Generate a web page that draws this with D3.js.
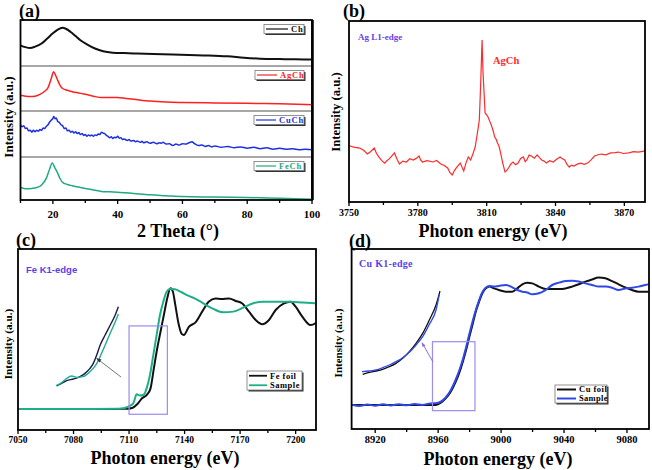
<!DOCTYPE html>
<html><head><meta charset="utf-8">
<script src="https://cdn.jsdelivr.net/npm/d3@7"></script>
<style>body{margin:0;background:#fff}svg{display:block}</style>
</head><body>
<script>
// ---------- DATA ----------
// (a) XRD patterns: [2theta, relative intensity within its strip (0-100)]
const xrdTicks = [20, 40, 60, 80, 100];
const xrdNames = ["Ch", "AgCh", "CuCh", "FeCh"];
const xrdColors = ["#111111", "#ff2020", "#1f2fe0", "#22a882"];
const xrdCh = [[10,45],[11.5,41],[13,39],[14.5,42],[16.5,49],[18,58],[20,71],[21.5,79],[23,83],[24,81],[25.5,74],[27,65],[28.5,56],[30.5,47],[33,38],[35.5,32],[38.5,29],[42,28],[46,27],[51,26],[57,25],[62,24],[68,23],[74,21],[79,18],[84,16],[90,15],[95,14.5],[100,14]];
const xrdAgCh = [[10,35],[11.5,33],[13,32],[14.5,33],[16,37],[17.5,44],[18.5,52],[19.5,72],[20.2,87],[20.8,80],[21.5,68],[22.2,57],[23,50],[24.5,46],[26,43],[28,40],[30,37],[32.5,33],[35,30],[37.5,30],[40,30],[42.5,28],[45,26],[50,22],[55,20],[60,19],[70,18],[80,17],[90,16],[100,14]];
const xrdCuCh = [[10,70],[10.5,66],[11,68],[11.5,62],[12,63],[12.5,57],[13,58],[13.5,54],[14,58],[14.5,55],[15,58],[15.5,56],[16,60],[16.5,58],[17,63],[17.5,62],[18,67],[18.5,70],[19,76],[19.5,80],[20,84],[20.3,88],[20.7,83],[21,85],[21.5,77],[22,75],[22.5,70],[23,68],[23.5,62],[24,63],[24.5,57],[25,58],[25.5,54],[26,56],[26.5,52],[27,55],[27.5,51],[28,53],[28.5,49],[29,51],[29.5,47],[30,49],[30.5,45],[31,48],[31.5,46],[32,48],[32.5,45],[33,48],[33.5,47],[34,50],[34.5,49],[35,54],[35.5,52],[36,51],[36.5,47],[37,45],[37.5,42],[38,44],[38.5,40],[39,43],[39.5,42],[40,45],[40.5,41],[41,42],[41.5,38],[42,39],[43,36],[43.5,38],[44,35],[45,36],[45.5,33],[46,35],[47,32],[47.5,34],[48,31],[49,33],[50,30],[51,32],[52,29],[53,31],[53.5,30],[54,32],[55,28],[56,29],[57,25],[58,28],[59,26],[60,29],[61,28],[62,31],[63,33],[63.5,30],[64,28],[65,25],[66,26],[67,23],[68,25],[69,22],[70,24],[72,21],[74,23],[76,20],[78,22],[80,19],[82,21],[84,18],[86,20],[88,17],[90,19],[92,17],[94,18],[96,16],[98,17],[100,16]];
const xrdFeCh = [[10,29],[11,27],[12,26],[13.5,27],[15,29],[16.5,35],[18,51],[19,72],[19.8,86],[20.6,75],[21.5,62],[22.2,50],[23,41],[24.5,36],[26,33],[28,30],[30,27],[32.5,23],[35,20],[37.5,19],[40,18],[45,15],[50,12],[55,10],[60,8],[70,7],[80,6],[90,4],[100,2]];

// (b) Ag L1-edge XANES: [eV, intensity]
const agTicks = [3750, 3780, 3810, 3840, 3870];
const agCh = [[3750,31.1],[3752.5,30.2],[3754.7,29.8],[3756.5,28.4],[3758,26.5],[3759.5,27.9],[3761,29.8],[3762,26.8],[3763,24.9],[3764.2,23],[3765.5,21.5],[3766.5,22.8],[3767.5,23.8],[3768.7,25.5],[3769.8,27.1],[3771,23.5],[3772,21],[3773.5,22.6],[3775,22.1],[3776.5,23.9],[3778,23.2],[3779.3,24.1],[3780.5,25.4],[3781.2,23.3],[3782,22.1],[3784,22.8],[3786.6,22.1],[3788.2,22.9],[3790,21],[3791.5,20.2],[3793,18.8],[3794,16.2],[3795,14.9],[3796,17.5],[3797,19.3],[3798.5,21.5],[3799.2,19.4],[3800,17.1],[3801,21.6],[3802,24.9],[3803,23.2],[3804,26.5],[3805,30.4],[3806,38.5],[3806.8,45.3],[3807.4,65.7],[3808,89.5],[3808.4,72],[3808.8,61.9],[3809.3,49.2],[3810,48.1],[3810.6,47],[3811.3,44.7],[3812,42.5],[3812.8,39.5],[3813.5,35.9],[3814.2,34.5],[3814.7,32.6],[3815.3,31.2],[3815.8,28.7],[3816.5,24.5],[3817,21.5],[3818,16.6],[3818.8,17.5],[3819.5,18.8],[3820.5,20.9],[3821.5,22.1],[3822.6,20.6],[3823.7,21.5],[3824.8,24.1],[3826,24.9],[3826.8,22.3],[3827.5,23.2],[3828.5,25.9],[3829.5,25.4],[3830.8,24.2],[3832,26],[3833,24.5],[3834,23.2],[3835,22.6],[3836,21.5],[3837.5,22.8],[3839,22.1],[3840.5,23.6],[3842,24.9],[3843,23.9],[3844,23.2],[3845,20.8],[3846,19.3],[3847,20.4],[3848,19.9],[3849.5,20.9],[3851,21.5],[3852.5,20.8],[3854,21.5],[3855.5,23.3],[3857,25.4],[3858.5,26.1],[3860,26.5],[3862,26.1],[3864,27.1],[3866,27.3],[3867.5,27.6],[3869.5,26.8],[3872,27.1],[3874,27.8],[3876,27.6],[3878,28],[3879,28.2]];

// (c) Fe K1-edge XANES: [eV, intensity]
const feTicks = [7050, 7080, 7110, 7140, 7170, 7200];
const feFoil = [[7090,11.6],[7100,11.6],[7108,11.7],[7111.7,12.2],[7114.4,14.2],[7117,17.5],[7119.8,19.7],[7121.6,23],[7123.4,34],[7125.2,45],[7127,54.3],[7128.8,63.5],[7130.6,72.7],[7132.4,78.3],[7133.7,76.4],[7135,69],[7136.9,58],[7138.5,53],[7139.6,52.5],[7142.3,57],[7145.9,59.5],[7149.5,65.4],[7153,70.9],[7156.7,72.7],[7160,72.4],[7164,72.7],[7167.6,71.3],[7171,70],[7174.8,65.4],[7178.4,60.8],[7182,58.4],[7185.6,60.8],[7189.2,66.3],[7193.7,70],[7197.3,70.9],[7200,68.1],[7203.6,62.6],[7208,58],[7210.7,59],[7213,62.1]];
const feSample = [[7050,11.6],[7070,11.6],[7090,11.6],[7105,11.7],[7109.6,12.9],[7112.3,14.7],[7114.1,19.7],[7115.9,19],[7117.7,19.3],[7119.5,23],[7121.3,30.4],[7123.1,41.4],[7124.9,52.5],[7126.7,63.5],[7128.5,70.9],[7130.3,76.4],[7132.1,77.9],[7134.8,77.7],[7138.4,76.1],[7142,74.2],[7146.5,72.2],[7150.1,70],[7155.5,66.9],[7160.9,65],[7166.3,65.4],[7171.7,67.6],[7177.1,70],[7182.5,70.9],[7189.8,70.9],[7197,70.9],[7204.1,70.4],[7210.5,70],[7213,70]];
const feZoomBox = [7110, 7130.7, 8.7, 57.5];            // eV0, eV1, I0, I1
const feInsetFoil = [[1,0],[9,3.3],[17,6.7],[27.5,8.8],[38,11.7],[46,15.8],[54,22],[59,28],[64.6,38.8],[70,51],[78,63.8],[86,76],[94,88.8],[99,99]];
const feInsetSample = [[0,0.4],[9,4.2],[17,9.6],[25,12.5],[33,10.8],[43,11.7],[51,15.8],[59,22],[64.6,28],[70,36.7],[78,51],[86,66],[94,80],[99,90]];

// (d) Cu K1-edge XANES: [eV, intensity]
const cuTicks = [8920, 8960, 9000, 9040, 9080];
const cuFoil = [[8905.3,13.3],[8930,13.3],[8958.5,13.4],[8961.7,14.6],[8964.8,17],[8968,20.7],[8971.2,26.3],[8974.4,33.7],[8977.5,43],[8979.6,50.4],[8981.8,57.8],[8983.9,65.2],[8986,70.7],[8988.1,75.4],[8990.2,78.1],[8992.7,79.1],[8995.5,78.1],[8998.6,77.2],[9002.9,76.3],[9007.1,76.3],[9010.3,78.1],[9013.5,80.4],[9016.6,81.3],[9019.8,80.9],[9024,79.1],[9028.2,77.8],[9032.5,77.8],[9036.7,77.8],[9040.9,78.1],[9045.2,79.1],[9049.4,80.4],[9053.6,81.9],[9057.8,83.1],[9062,84.1],[9066.3,83.7],[9070.5,82.2],[9074.7,80.4],[9078.9,78.7],[9083.2,77.2],[9087.4,76.3],[9093.7,76.3]];
const cuSample = [[8905.3,13.5],[8910,12.8],[8915,13.6],[8920,12.9],[8925,13.7],[8930,13.1],[8935,13.8],[8940,13.2],[8945,13.9],[8950,13.4],[8955,14.2],[8958.5,14.3],[8961.7,15.2],[8964.8,17.5],[8968,21.5],[8971.2,27.5],[8974.4,35],[8977.5,44.5],[8979.6,52],[8981.8,59.5],[8983.9,66],[8986,71.5],[8988.1,76],[8990.2,78.5],[8992.7,79.5],[8995.5,79.1],[8998.6,79.5],[9002.9,80],[9007.1,78.7],[9010.3,77.2],[9013.5,76.3],[9016.6,75.8],[9019.8,74.8],[9024,75.4],[9028.2,77.2],[9032.5,80],[9036.7,81.3],[9040.9,82.2],[9045.2,82.4],[9049.4,81.9],[9053.6,80.9],[9057.8,80],[9062,79.1],[9066.3,79.1],[9070.5,78.5],[9074.7,77.2],[9078.9,78.1],[9083.2,78.5],[9087.4,79.1],[9091.6,80],[9093.7,80.4]];
const cuZoomBox = [8956.4, 8983.4, 10.2, 48.5];
const cuInsetFoil = [[0.8,0.8],[9.3,3.1],[17.7,4.7],[26.2,6.7],[34.6,9.8],[43,13.7],[51.5,19.6],[59.9,27.5],[68.4,37.3],[76.8,49],[85.2,64.7],[93.7,82.4],[98.7,98.8]];
const cuInsetSample = [[0,3.9],[9.3,4.7],[17.7,5.9],[26.2,8.6],[34.6,11.8],[43,15.7],[51.5,20.4],[59.9,26.7],[68.4,35.3],[76.8,45.1],[85.2,59.6],[93.7,76.5],[97.9,94.9]];

// ---------- DRAWING ----------
const SERIF = "'Liberation Serif','Times New Roman',serif";
const SANS = "'Liberation Sans',Arial,sans-serif";
const svg = d3.select("body").append("svg").attr("width", 652).attr("height", 470);

function txt(x, y, s, size, opts = {}) {
  const t = svg.append("text").attr("x", x).attr("y", y).text(s)
    .attr("font-family", opts.family || SERIF).attr("font-weight", "bold")
    .attr("font-size", size).attr("fill", opts.fill || "#000")
    .attr("text-anchor", opts.anchor || "start");
  if (opts.rotate) t.attr("transform", `rotate(-90,${x},${y})`).attr("dy", "0.35em");
  if (opts.ls) t.attr("letter-spacing", opts.ls);
  return t;
}

function bottomAxis(x, y0, ticks, minorStep, fontSize, labelY) {
  const [d0, d1] = x.domain();
  const minor = d3.range(Math.ceil(d0 / minorStep) * minorStep, d1 + 0.001, minorStep);
  const g = svg.append("g");
  g.selectAll("line").data(minor).join("line")
    .attr("x1", d => x(d)).attr("x2", d => x(d))
    .attr("y1", y0).attr("y2", d => y0 + (ticks.includes(d) ? 4 : 3))
    .attr("stroke", "#000").attr("stroke-width", 1.3);
  g.selectAll("text").data(ticks).join("text")
    .attr("x", d => x(d)).attr("y", labelY).text(d => d)
    .attr("text-anchor", "middle").attr("font-family", SERIF)
    .attr("font-weight", "bold").attr("font-size", fontSize);
}

function frame(l, t, r, b) {
  svg.append("rect").attr("x", l).attr("y", t).attr("width", r - l).attr("height", b - t)
    .attr("fill", "none").attr("stroke", "#000").attr("stroke-width", 1.8);
}

function legendBox(x, y, w, h, items, size) {
  svg.append("rect").attr("x", x + 1.5).attr("y", y + 1.5).attr("width", w).attr("height", h).attr("fill", "#333");
  svg.append("rect").attr("x", x).attr("y", y).attr("width", w).attr("height", h)
    .attr("fill", "#fff").attr("stroke", "#777").attr("stroke-width", 0.8);
  const rowH = h / items.length;
  items.forEach((it, i) => {
    const cy = y + rowH * (i + 0.5);
    svg.append("line").attr("x1", x + 2).attr("x2", x + it.lineW).attr("y1", cy).attr("y2", cy)
      .attr("stroke", it.color).attr("stroke-width", it.sw || 1.5);
    txt(x + it.lineW + 3, cy + size * 0.35, it.label, size, { fill: it.textColor || "#000", ls: it.ls || 0 });
  });
}

const line = (x, y) => d3.line().x(d => x(d[0])).y(d => y(d[1])).curve(d3.curveMonotoneX);

// ---- Panel (a)
{
  const L = 20.5, R = 312, T = 20, B = 200;
  const strips = [20, 66, 111, 157, 200];
  const x = d3.scaleLinear().domain([10, 100]).range([L, R]);
  const series = [xrdCh, xrdAgCh, xrdCuCh, xrdFeCh];
  series.forEach((s, i) => {
    const y = d3.scaleLinear().domain([0, 100]).range([strips[i + 1], strips[i]]);
    svg.append("path").attr("d", line(x, y)(s)).attr("fill", "none")
      .attr("stroke", xrdColors[i]).attr("stroke-width", i === 0 ? 2 : 1.5);
    const bw = [40, 49, 50, 50][i];
    legendBox(304 - bw, strips[i] + 4.5, bw, 9,
      [{ color: xrdColors[i], label: xrdNames[i], lineW: i === 0 ? 24 : 22, textColor: xrdColors[i], sw: 1.2, ls: 0.8 }], 8.5);
  });
  strips.slice(1, 4).forEach(s => svg.append("line").attr("x1", L).attr("x2", R).attr("y1", s).attr("y2", s)
    .attr("stroke", "#8a8a8a").attr("stroke-width", 1.6));
  frame(L, T, R, B);
  svg.append("line").attr("x1", R + 0.5).attr("x2", R + 0.5).attr("y1", T).attr("y2", B).attr("stroke", "#000").attr("stroke-width", 2.5);
  bottomAxis(x, B, xrdTicks, 10, 11, 218);
  txt(178, 237, "2 Theta (°)", 18, { anchor: "middle" });
  txt(8, 117, "Intensity (a.u.)", 13, { anchor: "middle", rotate: true });
  txt(19, 17, "(a)", 18);
}

// ---- Panel (b)
{
  const L = 349, R = 645, T = 21, B = 202;
  const x = d3.scaleLinear().domain([3750, 3879]).range([L, R]);
  const y = d3.scaleLinear().domain([0, 100]).range([B, T]);
  svg.append("path").attr("d", d3.line().x(d => x(d[0])).y(d => y(d[1]))(agCh))
    .attr("fill", "none").attr("stroke", "#ff2a2a").attr("stroke-width", 1.2);
  frame(L, T, R, B);
  bottomAxis(x, B, agTicks, 15, 10, 216);
  txt(358, 40, "Ag L1-edge", 9, { fill: "#6a3fe6" });
  txt(493, 64, "AgCh", 10.5, { fill: "#ff2a2a" });
  txt(493, 237, "Photon energy (eV)", 18, { anchor: "middle" });
  txt(336, 112, "Intensity (a.u.)", 12.7, { anchor: "middle", rotate: true });
  txt(343, 17, "(b)", 18);
}

// ---- Panel (c)
{
  const L = 18, R = 316, T = 249, B = 430;
  const x = d3.scaleLinear().domain([7050, 7211]).range([L, R]);
  const y = d3.scaleLinear().domain([0, 100]).range([B, T]);
  const clip = svg.append("clipPath").attr("id", "clipc").append("rect").attr("x", L).attr("y", T).attr("width", R - L).attr("height", B - T);
  const g = svg.append("g").attr("clip-path", "url(#clipc)");
  g.append("path").attr("d", line(x, y)(feFoil)).attr("fill", "none").attr("stroke", "#111").attr("stroke-width", 2);
  g.append("path").attr("d", line(x, y)(feSample)).attr("fill", "none").attr("stroke", "#1fae88").attr("stroke-width", 2);
  const [e0, e1, i0, i1] = feZoomBox;
  svg.append("rect").attr("x", x(e0)).attr("y", y(i1)).attr("width", x(e1) - x(e0)).attr("height", y(i0) - y(i1))
    .attr("fill", "none").attr("stroke", "#9a8cf0").attr("stroke-width", 1.2);
  const ix = d3.scaleLinear().domain([0, 100]).range([56, 119]);
  const iy = d3.scaleLinear().domain([0, 100]).range([386, 306]);
  svg.append("path").attr("d", line(ix, iy)(feInsetFoil)).attr("fill", "none").attr("stroke", "#1a1a50").attr("stroke-width", 1.4);
  svg.append("path").attr("d", line(ix, iy)(feInsetSample)).attr("fill", "none").attr("stroke", "#1fae88").attr("stroke-width", 1.4);
  // arrow
  svg.append("line").attr("x1", 121).attr("y1", 377).attr("x2", 97.5).attr("y2", 359).attr("stroke", "#666").attr("stroke-width", 0.9);
  svg.append("path").attr("d", "M96,358 L101.5,359.6 L99.3,362.4 Z").attr("fill", "#333");
  frame(L, T, R, B);
  bottomAxis(x, B, feTicks, 15, 9.5, 443);
  legendBox(247, 371, 55, 19, [
    { color: "#111", label: "Fe foil", lineW: 20, sw: 1.8, ls: 0.5 },
    { color: "#1fae88", label: "Sample", lineW: 20, sw: 1.8, ls: 0.5 }], 8.5);
  txt(26, 273, "Fe K1-edge", 9.5, { family: SANS, fill: "#5a3fe8" });
  txt(165, 464, "Photon energy (eV)", 18, { anchor: "middle" });
  txt(8, 344, "Intensity (a.u.)", 11.3, { anchor: "middle", rotate: true });
  txt(16, 246, "(c)", 18);
}

// ---- Panel (d)
{
  const L = 351.6, R = 649, T = 249, B = 429;
  const x = d3.scaleLinear().domain([8905, 9094]).range([L, R]);
  const y = d3.scaleLinear().domain([0, 100]).range([B, T]);
  svg.append("clipPath").attr("id", "clipd").append("rect").attr("x", L).attr("y", T).attr("width", R - L).attr("height", B - T);
  const g = svg.append("g").attr("clip-path", "url(#clipd)");
  g.append("path").attr("d", line(x, y)(cuFoil)).attr("fill", "none").attr("stroke", "#111").attr("stroke-width", 2);
  g.append("path").attr("d", line(x, y)(cuSample)).attr("fill", "none").attr("stroke", "#3048e6").attr("stroke-width", 2);
  const [e0, e1, i0, i1] = cuZoomBox;
  svg.append("rect").attr("x", x(e0)).attr("y", y(i1)).attr("width", x(e1) - x(e0)).attr("height", y(i0) - y(i1))
    .attr("fill", "none").attr("stroke", "#9a8cf0").attr("stroke-width", 1.2);
  const ix = d3.scaleLinear().domain([0, 100]).range([362, 441]);
  const iy = d3.scaleLinear().domain([0, 100]).range([375, 290]);
  svg.append("path").attr("d", line(ix, iy)(cuInsetFoil)).attr("fill", "none").attr("stroke", "#111").attr("stroke-width", 1.3);
  svg.append("path").attr("d", line(ix, iy)(cuInsetSample)).attr("fill", "none").attr("stroke", "#3048e6").attr("stroke-width", 1.3);
  svg.append("line").attr("x1", 433).attr("y1", 362).attr("x2", 422.5).attr("y2", 343.5).attr("stroke", "#8a6ee0").attr("stroke-width", 1);
  svg.append("path").attr("d", "M421.5,342 L425.5,345.5 L422.6,347 Z").attr("fill", "#8a6ee0");
  frame(L, T, R, B);
  bottomAxis(x, B, cuTicks, 20, 10.5, 443);
  legendBox(555, 385, 52, 18, [
    { color: "#111", label: "Cu foil", lineW: 21, sw: 2, ls: 0.5 },
    { color: "#3048e6", label: "Sample", lineW: 21, sw: 2, ls: 0.3 }], 8.5);
  txt(359, 267, "Cu K1-edge", 10, { fill: "#5a3fe8", ls: 0.3 });
  txt(498, 465, "Photon energy (eV)", 18, { anchor: "middle" });
  txt(338, 343, "Intensity (a.u.)", 11, { anchor: "middle", rotate: true });
  txt(349, 247, "(d)", 18);
}
</script>
</body></html>
